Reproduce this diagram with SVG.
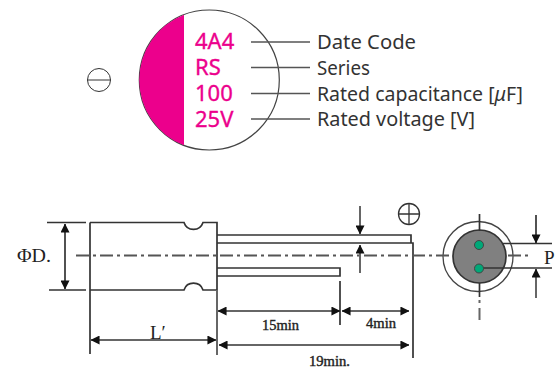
<svg xmlns="http://www.w3.org/2000/svg" width="560" height="370" viewBox="0 0 560 370">
<style>
.lb{font-family:"Noto Sans","Open Sans",sans-serif;font-size:19.5px;fill:#333}
.mg{font-family:"Noto Sans","Open Sans",sans-serif;font-size:22px;fill:#ec008c;stroke:#ec008c;stroke-width:.35}
.sf{font-family:"Liberation Serif",serif;fill:#222}
.sm{font-size:15px;stroke:#222;stroke-width:.4}
.k{fill:none;stroke:#555;stroke-width:1.3}
.d{fill:none;stroke:#333;stroke-width:1.7}
.g{fill:none;stroke:#666;stroke-width:2}
.c{fill:none;stroke:#555;stroke-width:2;stroke-dasharray:13 4 3 4}
</style>
<defs>
<marker id="a" viewBox="0 0 10 10" refX="9.5" refY="5" markerWidth="9" markerHeight="9" markerUnits="userSpaceOnUse" orient="auto-start-reverse"><path d="M0 0L10 5L0 10Z" fill="#111"/></marker>
</defs>
<g id="cap-top">
<circle cx="209.300" cy="80" r="70" fill="#fff" stroke="#444" stroke-width="1.2"/>
<path d="M184 14.700A70 70 0 0 0 184 145.300Z" fill="#ec008c"/>
<text class="mg" x="195" y="49.300">4A4</text>
<text class="mg" x="195" y="75">RS</text>
<text class="mg" x="195" y="101">100</text>
<text class="mg" x="195" y="127">25V</text>
</g>
<g id="polarity-minus"><circle cx="99" cy="80" r="11.500" fill="#fff" stroke="#333" stroke-width="1"/><path d="M87.500 80H110.500" stroke="#333" stroke-width="1"/></g>
<g id="labels">
<text class="lb" x="317" y="49" textLength="99" lengthAdjust="spacingAndGlyphs">Date Code</text>
<text class="lb" x="317" y="75" textLength="53" lengthAdjust="spacingAndGlyphs">Series</text>
<text class="lb" x="317" y="101" textLength="206" lengthAdjust="spacingAndGlyphs">Rated capacitance [<tspan font-style="italic">μ</tspan>F]</text>
<text class="lb" x="317" y="126" textLength="158" lengthAdjust="spacingAndGlyphs">Rated voltage [V]</text>
</g>
<g id="connectors">
<path class="k" d="M251 42H310M251 67.500H310M251 93.500H310M251 119H310"/>
</g>
<g id="body">
<path class="d" stroke-width="2" d="M90 222.500H184A10 10 0 0 0 203 222.500H217V290H203A10 10 0 0 0 184 290H90"/>
<path class="d" d="M90 222.500V354"/>
<path class="g" d="M217 290V355"/>
<path class="d" d="M47 222.500H86M49 290H86"/>
<path class="d" marker-start="url(#a)" marker-end="url(#a)" d="M65 224V289"/>
</g>
<g id="leads">
<path class="d" d="M217 235H411V243H217M411 243H413V358"/>
<path class="d" d="M217 268H340V276H217M340 281V325"/>
</g>
<g id="end-view">
<circle cx="478" cy="256.500" r="35" fill="#fff" stroke="#444" stroke-width="1.3"/>
</g>
<g id="center-lines">
<path class="c" d="M76 255.500H532"/>
<path class="g" d="M479.500 300V303M479.500 308V320"/>
</g>
<g id="end-view-front">
<circle cx="479.500" cy="256.500" r="26.500" fill="#808080" stroke="#333" stroke-width="1.700"/>
<path class="d" d="M479.500 214V231M479.500 283V297"/>
<path class="d" d="M503 243.500H552M482 268H552"/>
<circle cx="479" cy="245" r="4.500" fill="#00a878" stroke="#444"/>
<circle cx="479" cy="268.500" r="4.500" fill="#00a878" stroke="#444"/>
<path class="d" marker-end="url(#a)" d="M536 215V243"/>
<path class="g" marker-end="url(#a)" d="M536 298V269"/>
</g>
<g id="dims">
<path class="d" marker-start="url(#a)" marker-end="url(#a)" d="M91 340H216"/>
<path class="d" marker-start="url(#a)" marker-end="url(#a)" d="M218 311H340"/>
<path class="d" marker-start="url(#a)" marker-end="url(#a)" d="M342 311H409"/>
<path class="d" marker-start="url(#a)" marker-end="url(#a)" d="M219 345H409"/>
<path class="g" marker-end="url(#a)" d="M360 206V234"/>
<path class="g" marker-end="url(#a)" d="M360 273V245"/>
</g>
<g id="dim-labels">
<text class="sf" x="17" y="262" font-size="19" textLength="34" lengthAdjust="spacingAndGlyphs">ΦD.</text>
<text class="sf" x="150" y="339" font-size="19">L′</text>
<text class="sf sm" x="262" y="330" textLength="37" lengthAdjust="spacingAndGlyphs">15min</text>
<text class="sf sm" x="366" y="328" textLength="30" lengthAdjust="spacingAndGlyphs">4min</text>
<text class="sf sm" x="309" y="366" textLength="41" lengthAdjust="spacingAndGlyphs">19min.</text>
<text class="sf" x="544" y="264" font-size="19">P</text>
</g>
<g id="polarity-plus"><circle cx="409" cy="214" r="10.500" fill="#fff" stroke="#333" stroke-width="1.300"/><path d="M398.500 214H419.500M409 203.500V224.500" stroke="#333" stroke-width="1.300"/></g>
</svg>
